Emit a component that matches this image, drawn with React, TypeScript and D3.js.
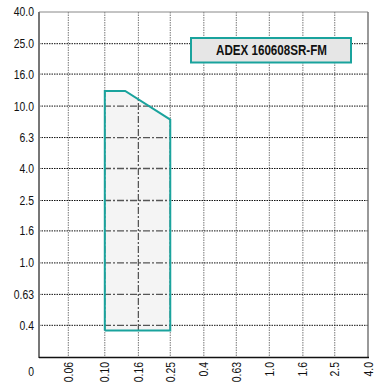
import React from "react";
import * as d3 from "d3";

const xTickValues = [0.0398, 0.06, 0.1, 0.16, 0.25, 0.4, 0.63, 1.0, 1.6, 2.5, 4.0];
const xTickLabels = ["0", "0.06", "0.10", "0.16", "0.25", "0.4", "0.63", "1.0", "1.6", "2.5", "4.0"];
const yTickValues = [0.251, 0.4, 0.63, 1.0, 1.6, 2.5, 4.0, 6.3, 10.0, 16.0, 25.0, 40.0];
const yTickLabels = ["0", "0.4", "0.63", "1.0", "1.6", "2.5", "4.0", "6.3", "10.0", "16.0", "25.0", "40.0"];
const regionF = [0.1, 0.1, 0.133, 0.25, 0.25];
const regionAp = [0.37, 12.5, 12.5, 8.2, 0.37];
const legendLabel = "ADEX 160608SR-FM";

const W = 374;
const H = 387;
const left = 39;
const right = 368;
const top = 12;
const bottom = 357;
const font = "'Liberation Sans', Arial, sans-serif";
const SX = 0.8;

export default function App() {
  const x = d3.scaleLog().domain([Math.pow(10, -1.4), Math.pow(10, 0.6)]).range([left, right]);
  const y = d3.scaleLog().domain([Math.pow(10, -0.6), Math.pow(10, 1.6)]).range([bottom, top]);
  const pts: [number, number][] = regionF.map((f, i) => [x(f), y(regionAp[i])]);
  const line = d3.line()(pts.concat([pts[0]])) || "";
  const poly = d3.line()(pts) + "Z";

  const xIdx = xTickValues.map((v, i) => (i === 0 ? left : x(v)));
  const yIdx = yTickValues.map((v, i) => (i === 0 ? bottom : y(v)));

  return (
    <svg width={W} height={H} style={{ position: "absolute", left: 0, top: 0 }}>
      <defs>
        <clipPath id="polyClip">
          <path d={poly} />
        </clipPath>
      </defs>
      <rect x={0} y={0} width={W} height={H} fill="#fff" />
      {xIdx.slice(1, -1).map((px, i) => (
        <line key={"vx" + i} x1={px} x2={px} y1={top} y2={bottom} stroke="#777" strokeWidth={1} strokeDasharray="1.5,1" />
      ))}
      {yIdx.slice(1, -1).map((py, i) => (
        <line key={"hy" + i} x1={left} x2={right} y1={py} y2={py} stroke="#111" strokeWidth={1} strokeDasharray="1.5,1" />
      ))}
      <path d={poly} fill="#f4f4f4" />
      <g clipPath="url(#polyClip)">
        {xIdx.slice(1, -1).map((px, i) => (
          <line key={"cvx" + i} x1={px} x2={px} y1={top} y2={bottom} stroke="#555" strokeWidth={1.3} strokeDasharray="7,2,2,2" />
        ))}
        {yIdx.slice(1, -1).map((py, i) => (
          <line key={"chy" + i} x1={left} x2={right} y1={py} y2={py} stroke="#555" strokeWidth={1.3} strokeDasharray="7,2,2,2" />
        ))}
      </g>
      <path d={line} fill="none" stroke="#1aa39d" strokeWidth={2} strokeLinejoin="miter" />
      <line x1={left} x2={right} y1={top} y2={top} stroke="#888" strokeWidth={1} />
      <line x1={right} x2={right} y1={top} y2={bottom} stroke="#777" strokeWidth={1.5} />
      <line x1={left} x2={left} y1={top} y2={bottom + 1} stroke="#777" strokeWidth={2} />
      <line x1={left} x2={right + 1} y1={bottom + 0.5} y2={bottom + 0.5} stroke="#111" strokeWidth={1.5} />
      {yIdx.map((py, i) => (
        <text
          key={"yl" + i}
          transform={`translate(34,${i === 0 ? 376 : py + 4.5}) scale(${SX},1)`}
          textAnchor="end"
          fontFamily={font}
          fontSize={13}
          fill="#111"
        >
          {yTickLabels[i]}
        </text>
      ))}
      {xIdx.slice(1).map((px, i) => (
        <text
          key={"xl" + i}
          transform={`translate(${px + 4.5},362) rotate(-90) scale(${SX},1)`}
          textAnchor="end"
          fontFamily={font}
          fontSize={13}
          fill="#111"
        >
          {xTickLabels[i + 1]}
        </text>
      ))}
      <rect x={191} y={38} width={160} height={24.5} fill="#e6e6e6" stroke="#1aa39d" strokeWidth={2} />
      <text
        x={216}
        y={55}
        textLength={111}
        lengthAdjust="spacingAndGlyphs"
        fontFamily={font}
        fontSize={14}
        fontWeight="bold"
        fill="#111"
      >
        {legendLabel}
      </text>
    </svg>
  );
}
